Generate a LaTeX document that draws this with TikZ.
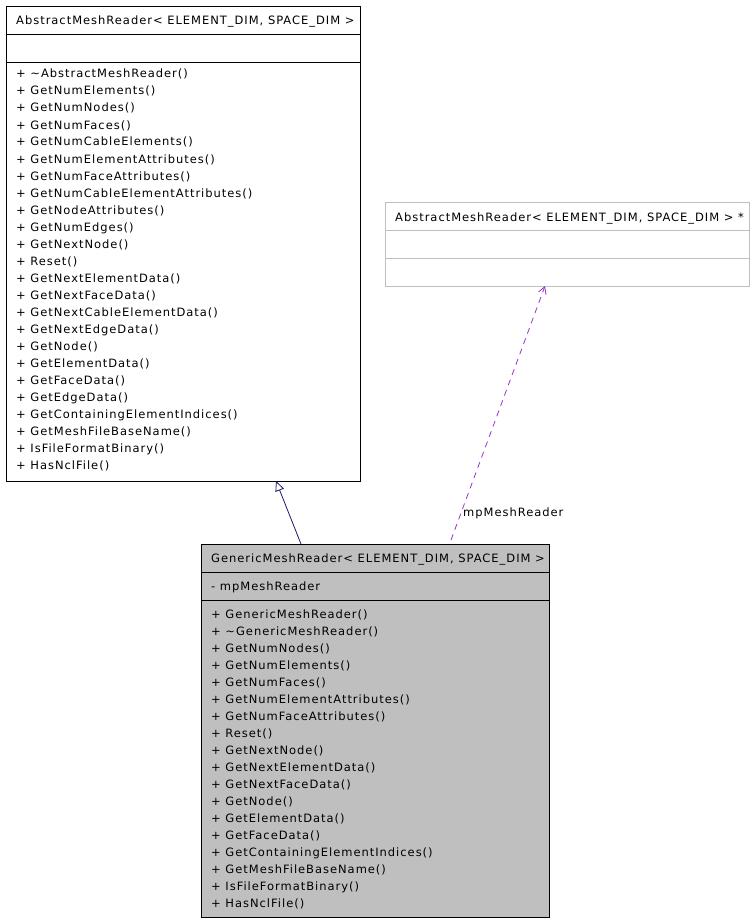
\documentclass[tikz,border=0pt]{standalone}
\usepackage{fontspec}
\setmainfont{DejaVu Sans}[LetterSpace=8.5]
\usetikzlibrary{arrows.meta}
\definecolor{umlgray}{HTML}{BFBFBF}
\definecolor{inhblue}{HTML}{191970}
\definecolor{usepurple}{HTML}{9A32CD}
\begin{document}
\begin{tikzpicture}[x=1pt,y=-1pt,
        umlbox/.style={draw=black, line width=0.8pt, rectangle, inner sep=0pt, anchor=north west},
        member/.style={anchor=base west, inner sep=0pt, font=\fontsize{11.5}{13}\selectfont},
        inherit/.style={inhblue, line width=0.8pt, -{Triangle[open, length=10pt, width=9pt]}},
        usage/.style={usepurple, line width=0.8pt, dash pattern=on 6pt off 5pt,
            -{Straight Barb[length=7pt, width=8pt]}}]
        \useasboundingbox (0,0) rectangle (755,923);

        % The base class.
        \node[umlbox, minimum width=354pt, minimum height=475pt] (abstract) at (6,6) {};
        \draw[line width=0.8pt] (6,34) -- (360,34) (6,62) -- (360,62);
        \node[member] (abstractname) at (16,25) {AbstractMeshReader< ELEMENT\_DIM, SPACE\_DIM >};
        \foreach \m [count=\i from 0] in {\textasciitilde AbstractMeshReader(), GetNumElements(),
            GetNumNodes(), GetNumFaces(), GetNumCableElements(), GetNumElementAttributes(),
            GetNumFaceAttributes(), GetNumCableElementAttributes(), GetNodeAttributes(),
            GetNumEdges(), GetNextNode(), Reset(), GetNextElementData(), GetNextFaceData(),
            GetNextCableElementData(), GetNextEdgeData(), GetNode(), GetElementData(),
            GetFaceData(), GetEdgeData(), GetContainingElementIndices(),
            GetMeshFileBaseName(), IsFileFormatBinary(), HasNclFile()}
            \node[member] (abstractm\i) at (16,78+17*\i) {+ \m};

        % The pointer type.
        \node[umlbox, draw=umlgray, minimum width=364pt, minimum height=84pt] (pointer) at (385,202) {};
        \draw[umlgray, line width=0.8pt] (385,230) -- (749,230) (385,258) -- (749,258);
        \node[member] (pointername) at (395,221.5) {AbstractMeshReader< ELEMENT\_DIM, SPACE\_DIM > *};

        % The derived class.
        \node[umlbox, fill=umlgray, minimum width=348pt, minimum height=373pt] (generic) at (201,544) {};
        \draw[line width=0.8pt] (201,572) -- (549,572) (201,600) -- (549,600);
        \node[member] (genericname) at (211,562) {GenericMeshReader< ELEMENT\_DIM, SPACE\_DIM >};
        \node[member] (genericattr) at (211,590) {- mpMeshReader};
        \foreach \m [count=\i from 0] in {GenericMeshReader(), \textasciitilde GenericMeshReader(),
            GetNumNodes(), GetNumElements(), GetNumFaces(), GetNumElementAttributes(),
            GetNumFaceAttributes(), Reset(), GetNextNode(), GetNextElementData(),
            GetNextFaceData(), GetNode(), GetElementData(), GetFaceData(),
            GetContainingElementIndices(), GetMeshFileBaseName(), IsFileFormatBinary(),
            HasNclFile()}
            \node[member] (genericm\i) at (211,618+17*\i) {+ \m};

        % Connectors.
        \coordinate (inhfrom) at (301,544);
        \coordinate (inhto) at (276,481);
        \coordinate (usefrom) at (451,540);
        \coordinate (useto) at (545,286);
        \draw[inherit] (inhfrom) -- (inhto);
        \draw[usage] (usefrom) -- (useto);
        \node[member] (uselabel) at (463,516.5) {mpMeshReader};
\end{tikzpicture}
\end{document}
